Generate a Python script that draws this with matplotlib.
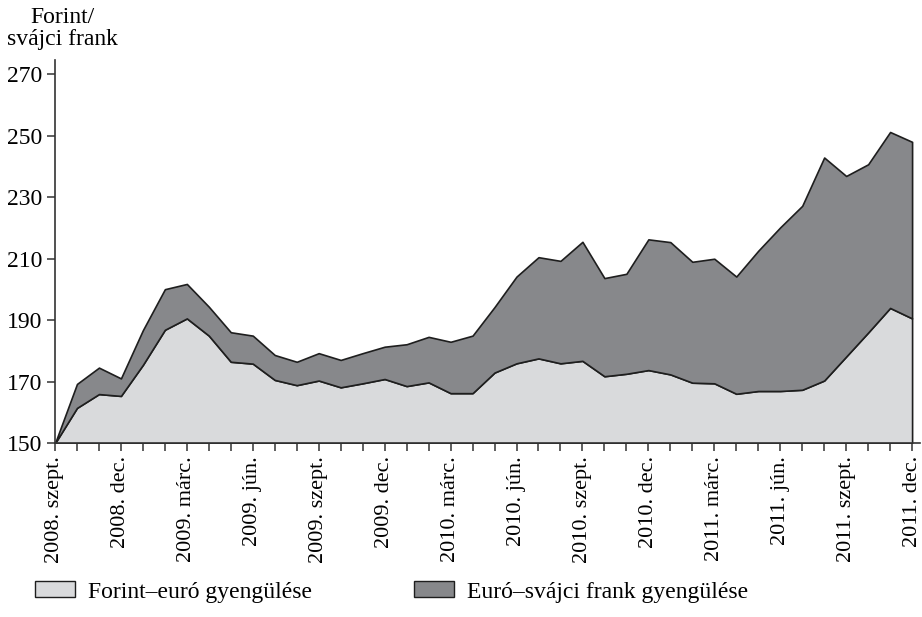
import matplotlib
matplotlib.use("Agg")
import matplotlib.pyplot as plt
from matplotlib.patches import Patch
import numpy as np

# Monthly data, 2008 szept .. 2011 dec
months = list(range(40))
forint_euro = [150.0, 161.5, 166.0, 165.4, 175.5, 186.9, 190.6, 185.0, 176.5, 175.9,
               170.6, 168.9, 170.4, 168.2, 169.5, 170.9, 168.6, 169.8, 166.3, 166.3,
               173.0, 176.0, 177.6, 176.0, 176.8, 171.8, 172.6, 173.8, 172.4, 169.7,
               169.5, 166.1, 167.0, 167.0, 167.4, 170.4, 178.2, 186.0, 194.0, 190.6]
total = [150.0, 169.3, 174.6, 171.1, 186.8, 200.1, 201.8, 194.4, 186.1, 185.0,
         178.7, 176.5, 179.3, 177.1, 179.3, 181.4, 182.2, 184.6, 183.0, 185.0,
         194.3, 204.2, 210.5, 209.3, 215.5, 203.7, 205.1, 216.3, 215.4, 209.0,
         210.0, 204.2, 212.6, 220.2, 227.2, 242.9, 236.9, 240.7, 251.2, 248.0]
tick_positions = list(range(0, 40, 3))
tick_labels = ["2008. szept.", "2008. dec.", "2009. márc.", "2009. jún.", "2009. szept.",
               "2009. dec.", "2010. márc.", "2010. jún.", "2010. szept.", "2010. dec.",
               "2011. márc.", "2011. jún.", "2011. szept.", "2011. dec."]
y_ticks = [150, 170, 190, 210, 230, 250, 270]
series_names = ["Forint–euró gyengülése", "Euró–svájci frank gyengülése"]

plt.rcParams['font.family'] = ['Liberation Serif', 'DejaVu Serif']
light = "#d9dadc"
dark = "#87888b"
edge = "#1e1e1e"

fig = plt.figure(figsize=(9.22, 6.17), dpi=100)
ax = fig.add_axes([55/922, 1 - 443.3/617, (920-55)/922, (443.3-60)/617])

base = [150.0] * len(months)
ax.fill_between(months, base, forint_euro, facecolor=light, edgecolor=edge, linewidth=1.2, zorder=2)
ax.fill_between(months, forint_euro, total, facecolor=dark, edgecolor=edge, linewidth=1.2, zorder=3)

ax.set_xlim(0, 39.36)
ax.set_ylim(150, 274.6)
ax.set_yticks(y_ticks)
ax.set_yticklabels([str(v) for v in y_ticks], fontsize=17)
ax.set_xticks(months, minor=True)
ax.set_xticks(tick_positions)
ax.set_xticklabels(tick_labels, rotation=90, fontsize=16, va='top')
ax.tick_params(axis='x', which='both', direction='out', length=6, width=1.1, color='#333333', pad=3)
ax.tick_params(axis='y', direction='out', length=6, width=1.1, color='#333333', pad=3)
for s in ['top', 'right']:
    ax.spines[s].set_visible(False)
for s in ['left', 'bottom']:
    ax.spines[s].set_linewidth(1.2)
    ax.spines[s].set_color('#333333')
    ax.spines[s].set_zorder(4)

fig.text(62/922, 1 - 7/617, "Forint/\nsvájci frank", ha='center', va='top',
         fontsize=17, linespacing=1.05, multialignment='center')

handles = [Patch(facecolor=light, edgecolor=edge, linewidth=1.0),
           Patch(facecolor=dark, edgecolor=edge, linewidth=1.0)]
fig.legend(handles, series_names, loc='center left', bbox_to_anchor=(35/922, 1 - 592/617),
           ncol=2, frameon=False, fontsize=17, handlelength=1.7, handleheight=0.65,
           handletextpad=0.55, columnspacing=4.3, borderpad=0, borderaxespad=0)

fig.savefig("out.png", dpi=100)
